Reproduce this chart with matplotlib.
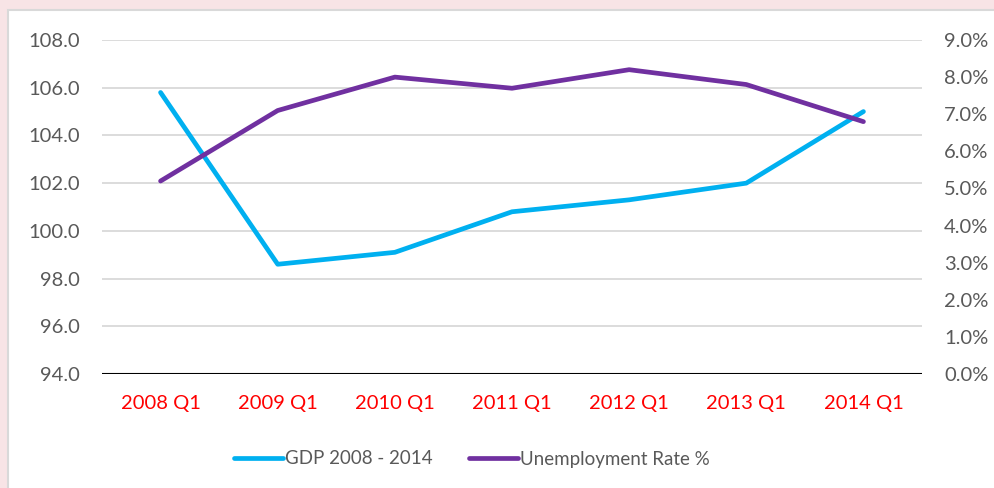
import matplotlib.pyplot as plt
from matplotlib.patches import Rectangle
from matplotlib.ticker import FuncFormatter

plt.rcParams['font.family'] = ['Lato', 'DejaVu Sans']

quarters = ["2008 Q1", "2009 Q1", "2010 Q1", "2011 Q1", "2012 Q1", "2013 Q1", "2014 Q1"]
gdp = [105.8, 98.6, 99.1, 100.8, 101.3, 102.0, 105.0]
unemployment = [5.2, 7.1, 8.0, 7.7, 8.2, 7.8, 6.8]

fig = plt.figure(figsize=(9.95, 4.88), dpi=100)
fig.patch.set_facecolor("#F8E4E6")
# white chart panel behind the axes
fig.patches.append(Rectangle((8 / 995, -0.1), 1.1, 1 - 10 / 488 + 0.1,
                             transform=fig.transFigure, facecolor="white",
                             edgecolor="#D9D9D9", linewidth=1.5, zorder=-5))

ax = fig.add_axes([102 / 995, 1 - 374 / 488, 820 / 995, 334 / 488])
ax.set_facecolor("none")
ax2 = ax.twinx()

x = list(range(len(quarters)))
l1, = ax.plot(x, gdp, color="#00B0F0", lw=3.4, solid_capstyle="round",
              label="GDP 2008 - 2014", zorder=3)
l2, = ax2.plot(x, unemployment, color="#7030A0", lw=3.4, solid_capstyle="round",
               label="Unemployment Rate %", zorder=3)

ax.set_xlim(-0.5, len(quarters) - 0.5)
ax.set_ylim(94, 108)
ax.set_yticks(range(94, 109, 2))
ax.yaxis.set_major_formatter(FuncFormatter(lambda v, p: f"{v:.1f}"))
ax2.set_ylim(0, 9)
ax2.set_yticks(range(0, 10))
ax2.yaxis.set_major_formatter(FuncFormatter(lambda v, p: f"{v:.1f}%"))

ax.set_xticks(x)
ax.set_xticklabels(quarters, color="red", fontsize=14.5)
ax.tick_params(axis="x", length=0, pad=15)
ax.tick_params(axis="y", length=0, pad=16, labelsize=14.5, labelcolor="#595959")
ax2.tick_params(axis="y", length=0, pad=16, labelsize=14.5, labelcolor="#595959")

ax.grid(axis="y", color="#D9D9D9", lw=1.3)
ax.set_axisbelow(True)
for a in (ax, ax2):
    for s in ["top", "left", "right", "bottom"]:
        a.spines[s].set_visible(False)
ax.axhline(94, color="black", lw=1.5, zorder=2)

fig.legend(handles=[l1, l2], loc="center", bbox_to_anchor=(472 / 995, 1 - 459 / 488),
           ncol=2, frameon=False, fontsize=13.5, handlelength=2.6,
           handletextpad=0.15, columnspacing=1.9, labelcolor="#595959")

fig.savefig("out.png", dpi=100, facecolor=fig.get_facecolor())
